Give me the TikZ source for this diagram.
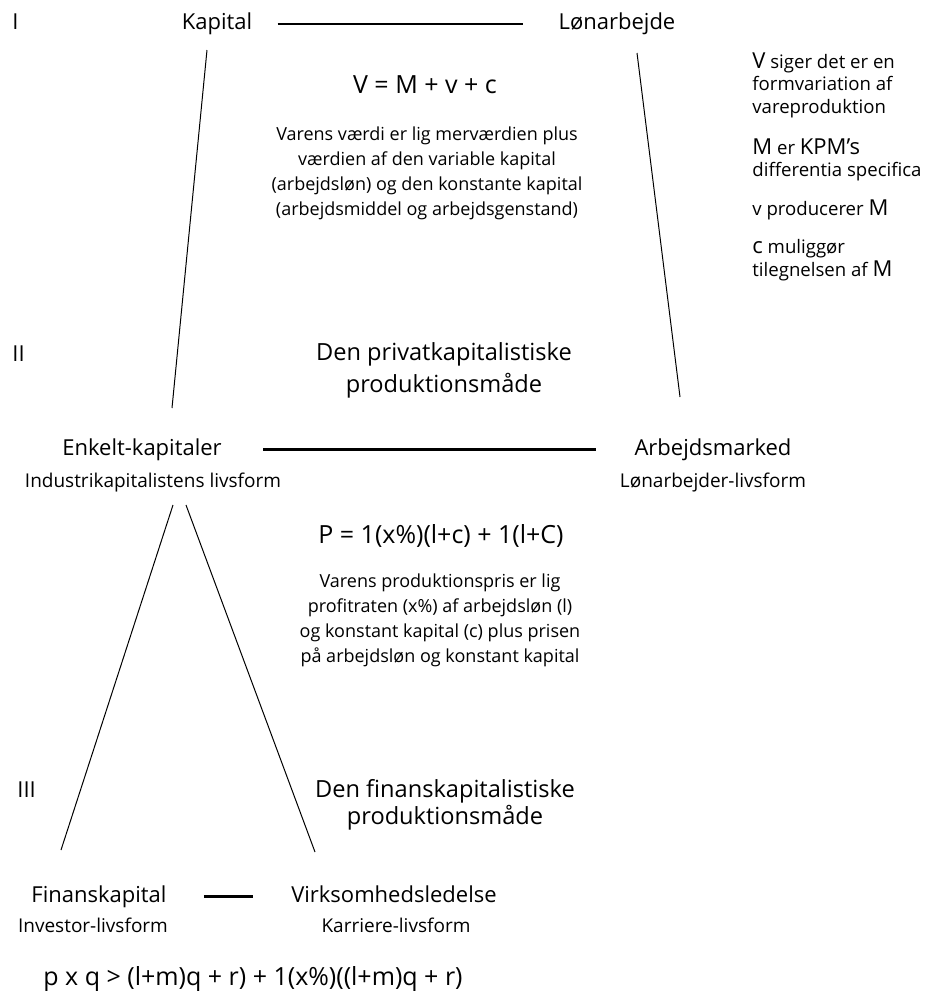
\documentclass[tikz,border=0pt]{standalone}
\usepackage{fontspec}
\setmainfont{Open Sans}
\usetikzlibrary{positioning}

\newcommand{\notebig}[1]{{\fontsize{11}{11.25}\selectfont #1}}

\tikzset{
  lbl/.style={inner sep=0pt, font=\fontsize{11}{13}\selectfont},
  sublbl/.style={inner sep=0pt, font=\fontsize{9.5}{11}\selectfont},
  formula/.style={inner sep=0pt, font=\fontsize{12.5}{14}\selectfont},
  expl/.style={inner sep=0pt, align=center, font=\fontsize{9}{12.5}\selectfont},
  mode/.style={inner sep=0pt, align=center, font=\fontsize{11.8}{16}\selectfont},
  note/.style={inner sep=0pt, align=left, font=\fontsize{9.3}{11.25}\selectfont},
  bond/.style={line width=1pt},
  leg/.style={line width=0.5pt}
}

\begin{document}
\begin{tikzpicture}[x=0.5pt,y=-0.5pt]
    \useasboundingbox (0,0) rectangle (925,991);

    % I
    \node[lbl, anchor=base west] (lvlI) at (12,29) {I};
    \node[lbl, anchor=base] (kapital) at (217,29) {Kapital};
    \node[lbl, anchor=base] (lonarb) at (617,29) {Lønarbejde};
    \draw[bond, shorten <=12.5pt, shorten >=17.5pt] (kapital.mid east) -- (lonarb.mid west);

    \node[formula, anchor=base] (vform) at (425,93) {V = M + v + c};
    \node[expl, anchor=north] (vexpl) at (427,126) {Varens værdi er lig merværdien plus\\værdien af den variable kapital\\(arbejdsløn) og den konstante kapital\\(arbejdsmiddel og arbejdsgenstand)};

    \node[note, anchor=north west] (noteV) at (752,52) {\notebig{V} siger det er en\\formvariation af\\vareproduktion};
    \node[note, anchor=north west] (noteM) at (752,138) {\notebig{M} er \notebig{KPM’s}\\differentia specifica};
    \node[note, anchor=north west] (notev) at (752,199) {v producerer \notebig{M}};
    \node[note, anchor=north west] (notec) at (752,239) {\notebig{c} muliggør\\tilegnelsen af \notebig{M}};

    \coordinate (kapL) at (207,50);
    \coordinate (enkL) at (172,408);
    \coordinate (lonR) at (637,53);
    \coordinate (arbR) at (680,397);
    \draw[leg] (kapL) -- (enkL);
    \draw[leg] (lonR) -- (arbR);

    % II
    \node[lbl, anchor=base west] (lvlII) at (12,361) {II};
    \node[mode, anchor=north] (privat) at (444,342) {Den privatkapitalistiske\\produktionsmåde};

    \node[lbl, anchor=base] (enkelt) at (142,455) {Enkelt-kapitaler};
    \node[sublbl, anchor=base] (industri) at (153,487) {Industrikapitalistens livsform};
    \node[lbl, anchor=base] (arbmarked) at (713,455) {Arbejdsmarked};
    \node[sublbl, anchor=base] (lonliv) at (713,487) {Lønarbejder-livsform};
    \draw[bond, line width=1.4pt, shorten <=20.5pt, shorten >=19pt] (enkelt.mid east) -- (arbmarked.mid west);

    \node[formula, anchor=base] (pform) at (441,543) {P = 1(x\%)(l+c) + 1(l+C)};
    \node[expl, anchor=north] (pexpl) at (440,573) {Varens produktionspris er lig\\profitraten (x\%) af arbejdsløn (l)\\og konstant kapital (c) plus prisen\\på arbejdsløn og konstant kapital};

    \coordinate (enkA) at (173,505);
    \coordinate (finA) at (61,850);
    \coordinate (enkB) at (186,505);
    \coordinate (virB) at (315,852);
    \draw[leg] (enkA) -- (finA);
    \draw[leg] (enkB) -- (virB);

    % III
    \node[lbl, anchor=base west] (lvlIII) at (17,797) {III};
    \node[mode, anchor=north, font=\fontsize{11.8}{13.5}\selectfont] (finans) at (445,779) {Den finanskapitalistiske\\produktionsmåde};

    \node[lbl, anchor=base] (finkap) at (99,902) {Finanskapital};
    \node[sublbl, anchor=base] (investor) at (93,932) {Investor-livsform};
    \node[lbl, anchor=base] (virksomhed) at (394,902) {Virksomhedsledelse};
    \node[sublbl, anchor=base] (karriere) at (396,932) {Karriere-livsform};
    \draw[bond, line width=1.4pt, shorten <=18.5pt, shorten >=19pt] (finkap.mid east) -- (virksomhed.mid west);

    \node[formula, anchor=base] (pxq) at (253,985) {p x q > (l+m)q + r) + 1(x\%)((l+m)q + r)};

\end{tikzpicture}
\end{document}
